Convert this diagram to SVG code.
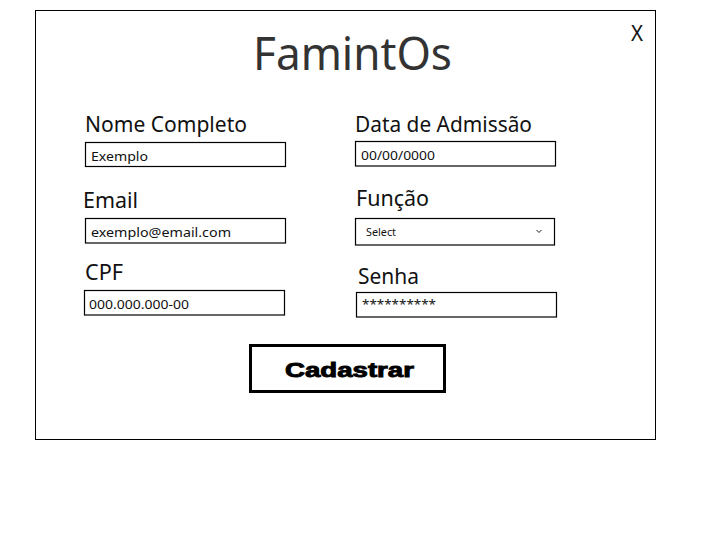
<svg xmlns="http://www.w3.org/2000/svg" width="720" height="539" viewBox="0 0 720 539">
<style>
.lbl{font-family:"Noto Sans","Open Sans",sans-serif;font-size:21px;fill:#111}
.val{font-family:"Noto Sans","Open Sans",sans-serif;font-size:13px;fill:#111}
.box{fill:#fff;stroke:#000;stroke-width:1.2}
</style>
<rect width="720" height="539" fill="#fff"/>
<g id="frame">
<rect x="35.5" y="10.5" width="620" height="429" fill="#fff" stroke="#000" stroke-width="1"/>
<text x="352.5" y="70" text-anchor="middle" font-family="Noto Sans, Open Sans, sans-serif" font-size="46" fill="#333" textLength="199" lengthAdjust="spacingAndGlyphs">FamintOs</text>
<text x="637" y="41" text-anchor="middle" font-family="Noto Sans, Open Sans, sans-serif" font-size="22" fill="#111" textLength="12" lengthAdjust="spacingAndGlyphs">X</text>
</g>
<g id="nome">
<text class="lbl" x="85" y="131.5" textLength="162" lengthAdjust="spacingAndGlyphs">Nome Completo</text>
<rect class="box" x="85.5" y="142.5" width="200" height="24"/>
<text class="val" x="91" y="160.5" textLength="57" lengthAdjust="spacingAndGlyphs">Exemplo</text>
</g>
<g id="data">
<text class="lbl" x="355" y="131.5" textLength="177" lengthAdjust="spacingAndGlyphs">Data de Admissão</text>
<rect class="box" x="355.5" y="141.5" width="200" height="24.5"/>
<text class="val" x="361" y="159.5" textLength="74" lengthAdjust="spacingAndGlyphs">00/00/0000</text>
</g>
<g id="email">
<text class="lbl" x="83" y="208" textLength="55" lengthAdjust="spacingAndGlyphs">Email</text>
<rect class="box" x="85.5" y="218.5" width="200" height="24.5"/>
<text class="val" x="91" y="236.5" textLength="140" lengthAdjust="spacingAndGlyphs">exemplo@email.com</text>
</g>
<g id="funcao">
<text class="lbl" x="356" y="206" textLength="73" lengthAdjust="spacingAndGlyphs">Função</text>
<rect class="box" x="355.5" y="218.5" width="199" height="26.5"/>
<text x="366" y="236" font-family="Noto Sans, Open Sans, sans-serif" font-size="10.5" fill="#111" textLength="30" lengthAdjust="spacingAndGlyphs">Select</text>
<path d="M536.5 230 L539 232.5 L541.5 230" fill="none" stroke="#222" stroke-width="1"/>
</g>
<g id="cpf">
<text class="lbl" x="85" y="280" textLength="38" lengthAdjust="spacingAndGlyphs">CPF</text>
<rect class="box" x="84.5" y="290.5" width="200" height="24.5"/>
<text class="val" x="89" y="308.5" textLength="100" lengthAdjust="spacingAndGlyphs">000.000.000-00</text>
</g>
<g id="senha">
<text class="lbl" x="358" y="284" textLength="61" lengthAdjust="spacingAndGlyphs">Senha</text>
<rect class="box" x="356.5" y="292.5" width="200" height="24.5"/>
<text x="362" y="309" font-family="Noto Sans, Open Sans, sans-serif" font-size="13" fill="#111" textLength="74" lengthAdjust="spacingAndGlyphs">**********</text>
</g>
<g id="cadastrar">
<rect x="250.5" y="345.5" width="194" height="46" fill="#fff" stroke="#000" stroke-width="3"/>
<text x="349.5" y="377" text-anchor="middle" font-family="Liberation Sans, Arial, sans-serif" font-weight="bold" font-size="20" fill="#000" stroke="#000" stroke-width="0.9" textLength="129" lengthAdjust="spacingAndGlyphs">Cadastrar</text>
</g>
<g id="connectors"/>
</svg>
